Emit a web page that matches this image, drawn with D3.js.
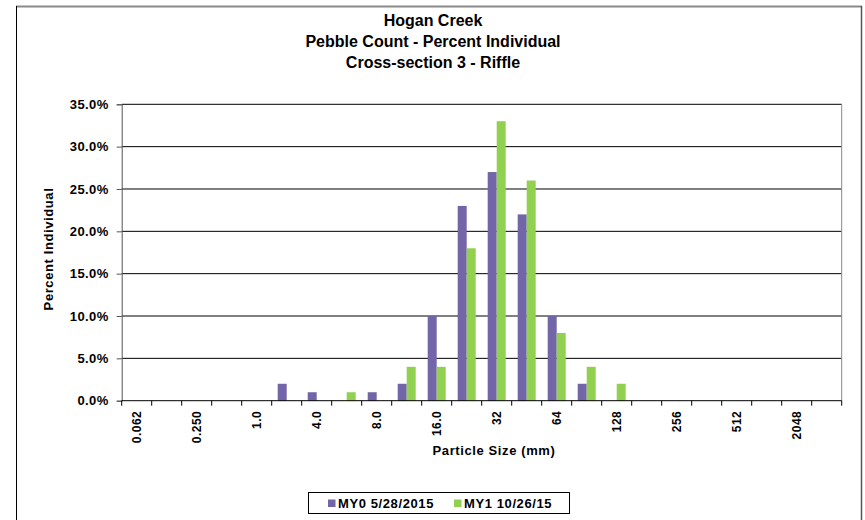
<!DOCTYPE html>
<html>
<head>
<meta charset="utf-8">
<script src="https://cdn.jsdelivr.net/npm/d3@7"></script>
<style>
  body { margin: 0; background: #fff; }
  svg { display: block; font-family: "Liberation Sans", Arial, sans-serif; }
</style>
</head>
<body>
<div id="chart"></div>
<script>
"use strict"

// particle size classes (mm); only every other one gets a label
const sizes = ["0.062", "0.125", "0.250", "0.5", "1.0", "2.0", "4.0", "5.7", "8.0", "11.3", "16.0", "22.6",
  "32", "45", "64", "90", "128", "180", "256", "362", "512", "1024", "2048", "4096"];
const seriesNames = ["MY0 5/28/2015", "MY1 10/26/15"];
const my0 = [0, 0, 0, 0, 0, 2, 1, 0, 1, 2, 10, 23, 27, 22, 10, 2, 0, 0, 0, 0, 0, 0, 0, 0];
const my1 = [0, 0, 0, 0, 0, 0, 0, 1, 0, 4, 4, 18, 33, 26, 8, 4, 2, 0, 0, 0, 0, 0, 0, 0];
const yTicks = [0, 5, 10, 15, 20, 25, 30, 35];
const colors = ["#7266a8", "#92d050"];

const width = 865, height = 520;
const margin = { top: 104.3, left: 121.7, right: 23.3, bottom: 119.3 };

const svg = d3.select("#chart").append("svg")
  .attr("width", width)
  .attr("height", height);

// outer chart frame
svg.append("line").attr("x1", 16).attr("x2", 862).attr("y1", 6.5).attr("y2", 6.5)
  .attr("stroke", "#8a8a8a").attr("stroke-width", 2);
svg.append("line").attr("x1", 16.5).attr("x2", 16.5).attr("y1", 6).attr("y2", 520)
  .attr("stroke", "#000");
svg.append("line").attr("x1", 861.5).attr("x2", 861.5).attr("y1", 6).attr("y2", 520)
  .attr("stroke", "#555").attr("stroke-width", 1.5);

// titles
const titles = ["Hogan Creek", "Pebble Count - Percent Individual", "Cross-section 3 - Riffle"];
svg.append("g")
  .attr("text-anchor", "middle")
  .style("font-size", "16px")
  .style("font-weight", "bold")
  .selectAll("text")
  .data(titles)
  .join("text")
  .attr("x", 433)
  .attr("y", (d, i) => 25.5 + i * 21)
  .text(d => d);

const x = d3.scaleBand()
  .domain(sizes)
  .range([margin.left, width - margin.right]);

const xSub = d3.scaleBand()
  .domain(seriesNames)
  .range([0, x.bandwidth()])
  .paddingOuter(2 / 3);

const y = d3.scaleLinear()
  .domain([0, 35])
  .range([height - margin.bottom, margin.top]);

// gridlines
svg.append("g")
  .selectAll("line")
  .data(yTicks.slice(1))
  .join("line")
  .attr("x1", margin.left)
  .attr("x2", width - margin.right)
  .attr("y1", d => y(d))
  .attr("y2", d => y(d))
  .attr("stroke", "#000")
  .attr("stroke-width", 1);

// plot right border
svg.append("line")
  .attr("x1", width - margin.right).attr("x2", width - margin.right)
  .attr("y1", margin.top).attr("y2", height - margin.bottom)
  .attr("stroke", "#888");

// bars
const series = [my0, my1];
series.forEach((vals, si) => {
  svg.append("g")
    .selectAll("rect")
    .data(vals.map((v, i) => ({ size: sizes[i], v })).filter(d => d.v > 0))
    .join("rect")
    .attr("x", d => x(d.size) + xSub(seriesNames[si]))
    .attr("width", xSub.bandwidth())
    .attr("y", d => y(d.v))
    .attr("height", d => y(0) - y(d.v))
    .attr("fill", colors[si]);
});

// y axis
const yAxis = svg.append("g")
  .attr("transform", `translate(${margin.left},0)`)
  .call(d3.axisLeft(y).tickValues(yTicks).tickSize(5).tickPadding(8)
    .tickFormat(d => d.toFixed(1) + "%"));
yAxis.select(".domain").attr("stroke", "#555");
yAxis.selectAll(".tick line").attr("stroke", "#555");
yAxis.selectAll("text")
  .style("font-size", "13px")
  .style("font-weight", "bold")
  .style("letter-spacing", "0.4px")
  .attr("fill", "#000");

// x axis: ticks between categories, labels on every other class
const xAxis = svg.append("g")
  .attr("transform", `translate(0,${height - margin.bottom})`);
xAxis.append("line")
  .attr("x1", margin.left).attr("x2", width - margin.right)
  .attr("stroke", "#000");
xAxis.selectAll(".tk")
  .data(d3.range(sizes.length + 1))
  .join("line")
  .attr("class", "tk")
  .attr("x1", i => margin.left + i * x.step())
  .attr("x2", i => margin.left + i * x.step())
  .attr("y1", 0).attr("y2", 5)
  .attr("stroke", "#000");
xAxis.selectAll("text")
  .data(sizes.filter((d, i) => i % 2 === 0))
  .join("text")
  .attr("transform", d => `translate(${x(d) + x.bandwidth() / 2 + 4.5},10) rotate(-90)`)
  .attr("text-anchor", "end")
  .style("font-size", "12px")
  .style("font-weight", "bold")
  .style("letter-spacing", "0.5px")
  .text(d => d);

// axis titles
svg.append("text")
  .attr("x", 494)
  .attr("y", 455)
  .attr("text-anchor", "middle")
  .style("font-size", "13px")
  .style("font-weight", "bold")
  .style("letter-spacing", "0.6px")
  .text("Particle Size (mm)");

svg.append("text")
  .attr("transform", "translate(53,249) rotate(-90)")
  .attr("text-anchor", "middle")
  .style("font-size", "13px")
  .style("font-weight", "bold")
  .style("letter-spacing", "0.6px")
  .text("Percent Individual");

// legend
const legend = svg.append("g");
legend.append("rect")
  .attr("x", 308.5).attr("y", 492.5)
  .attr("width", 261).attr("height", 21)
  .attr("fill", "#fff").attr("stroke", "#000");
const legendX = [328, 454];
seriesNames.forEach((name, i) => {
  legend.append("rect")
    .attr("x", legendX[i]).attr("y", 499.5)
    .attr("width", 7.5).attr("height", 7.5)
    .attr("fill", colors[i]);
  legend.append("text")
    .attr("x", legendX[i] + 10).attr("y", 507.5)
    .style("font-size", "13px")
    .style("font-weight", "bold")
    .style("letter-spacing", "0.6px")
    .text(name);
});
</script>
</body>
</html>
